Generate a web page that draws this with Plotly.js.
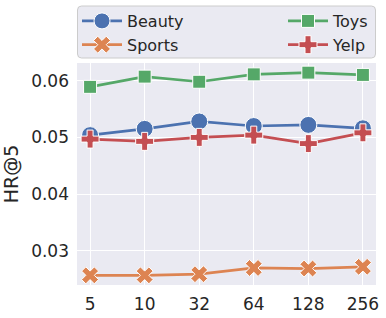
<!DOCTYPE html>
<html>
<head>
<meta charset="utf-8">
<script src="https://cdn.plot.ly/plotly-3.0.1.min.js"></script>
<style>html,body{margin:0;padding:0;background:#fff;}#chart{width:386px;height:318px;}</style>
</head>
<body>
<div id="chart"></div>
<script>
const categories = ["5", "10", "32", "64", "128", "256"];
const beauty = [0.0504, 0.0515, 0.0528, 0.0520, 0.0522, 0.0516];
const sports = [0.0257, 0.0257, 0.0259, 0.0270, 0.0269, 0.0272];
const toys   = [0.0589, 0.0607, 0.0598, 0.0611, 0.0614, 0.0610];
const yelp   = [0.0497, 0.0493, 0.0500, 0.0504, 0.0489, 0.0508];

const series = [
  {name: "Beauty", y: beauty, color: "#4C72B0", symbol: "circle", size: 17, legend: "legend"},
  {name: "Sports", y: sports, color: "#DD8452", symbol: "x", size: 15, legend: "legend"},
  {name: "Toys",   y: toys,   color: "#55A868", symbol: "square", size: 13, legend: "legend2"},
  {name: "Yelp",   y: yelp,   color: "#C44E52", symbol: "cross", size: 15, legend: "legend2"}
];

const traces = series.map(s => ({
  type: "scatter",
  mode: "lines+markers",
  name: s.name,
  legend: s.legend,
  x: categories,
  y: s.y,
  line: {color: s.color, width: 2.7},
  marker: {color: s.color, symbol: s.symbol, size: s.size, line: {color: "#ffffff", width: 1}}
}));

// plot area: height 222 px, width 299 px
const H = 222, W = 299;
const py = Y => (285 - Y) / H;
const px = X => (X - 77) / W;
const rx = 4 / W, ry = 4 / H;
const x0 = px(77.5), x1 = px(375.5), yT = py(6), yB = py(58);
const boxPath = `M ${x0 + rx} ${yT} L ${x1 - rx} ${yT} Q ${x1} ${yT} ${x1} ${yT - ry} ` +
  `L ${x1} ${yB + ry} Q ${x1} ${yB} ${x1 - rx} ${yB} L ${x0 + rx} ${yB} Q ${x0} ${yB} ${x0} ${yB + ry} ` +
  `L ${x0} ${yT - ry} Q ${x0} ${yT} ${x0 + rx} ${yT} Z`;

const legendCommon = {
  orientation: "v",
  yanchor: "top",
  y: py(4),
  xanchor: "left",
  bgcolor: "rgba(0,0,0,0)",
  borderwidth: 0,
  font: {size: 16, family: "DejaVu Sans", color: "#262626"},
  tracegroupgap: 0,
  itemwidth: 40
};

const layout = {
  width: 386, height: 318,
  margin: {l: 77, r: 10, t: 63, b: 33, autoexpand: false},
  paper_bgcolor: "#ffffff",
  plot_bgcolor: "#EAEAF2",
  font: {family: "DejaVu Sans", color: "#262626", size: 17},
  showlegend: true,
  legend: Object.assign({}, legendCommon, {x: px(77)}),
  legend2: Object.assign({}, legendCommon, {x: px(283)}),
  shapes: [{
    type: "path", xref: "paper", yref: "paper", path: boxPath,
    fillcolor: "#EAEAF2", line: {color: "#CCCCCC", width: 1}, layer: "below"
  }],
  xaxis: {
    type: "category",
    range: [-0.24, 5.24],
    showgrid: true, gridcolor: "#ffffff", gridwidth: 1,
    zeroline: false, showline: false, ticks: "",
    tickfont: {size: 17},
    ticklabelstandoff: 7
  },
  yaxis: {
    range: [0.0240, 0.0631],
    tickvals: [0.03, 0.04, 0.05, 0.06],
    ticktext: ["0.03", "0.04", "0.05", "0.06"],
    showgrid: true, gridcolor: "#ffffff", gridwidth: 1,
    zeroline: false, showline: false, ticks: "",
    tickfont: {size: 17},
    ticklabelstandoff: 7,
    title: {text: "HR@5", font: {size: 19}, standoff: 8}
  }
};

Plotly.newPlot("chart", traces, layout, {displayModeBar: false, staticPlot: true});
</script>
</body>
</html>
